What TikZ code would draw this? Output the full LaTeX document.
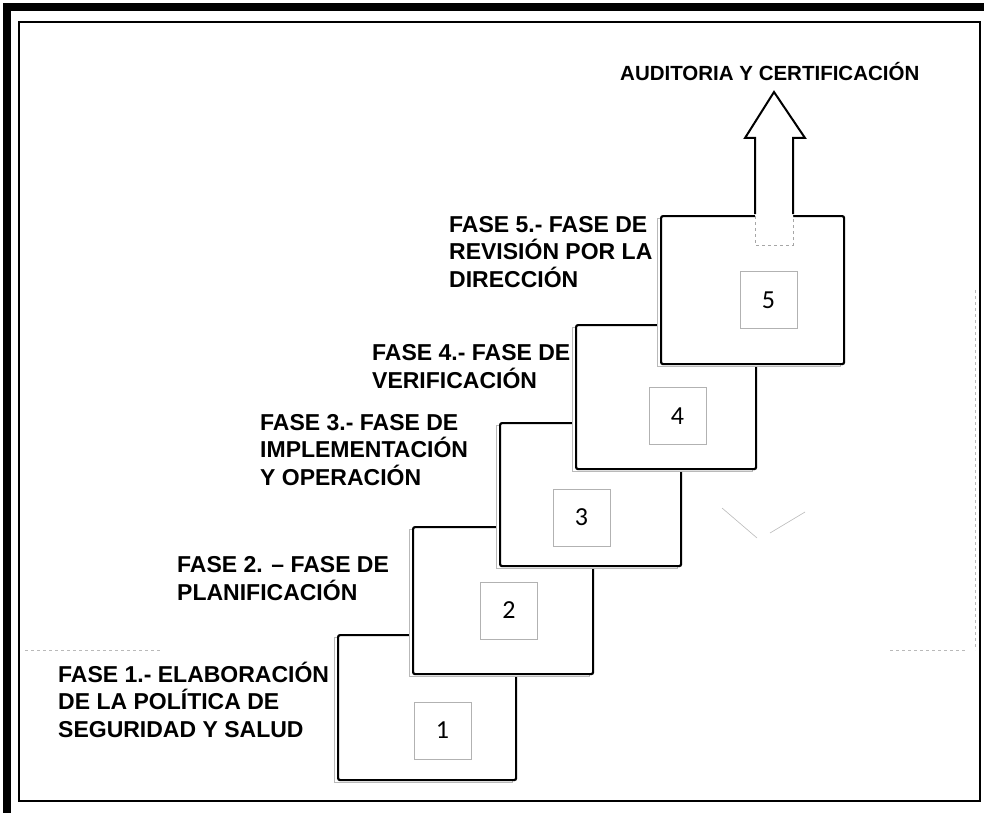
\documentclass[tikz,border=0pt]{standalone}
\usepackage{fontspec}
\setmainfont{Liberation Sans}
\newfontfamily\numfont{Carlito}
\begin{document}
\begin{tikzpicture}[x=1pt,y=-1pt,
  stepbox/.style={draw=black, line width=2.2pt, fill=white, rounded corners=2pt, anchor=north west, inner sep=0pt},
  stepshadow/.style={draw=gray!55, line width=1.2pt, fill=white, anchor=north west, inner sep=0pt},
  numbox/.style={draw=gray!60, line width=0.9pt, minimum width=57pt, minimum height=57pt, inner sep=0pt,
    font=\numfont\fontsize{26}{26}\selectfont},
  phase/.style={font=\bfseries\fontsize{23}{27.5}\selectfont, align=left, inner sep=0pt, anchor=base west},
  faint/.style={draw=gray!55, line width=0.6pt}
]
\useasboundingbox (0,0) rectangle (984,813);
% frame
\fill[black] (3,3) rectangle (11,813);
\fill[black] (3,3) rectangle (984,11);
\draw[line width=1.6pt] (19,22) rectangle (980,801);
% faint remnants
\draw[faint, dashed] (975,290) -- (975,650);
\draw[faint, dashed] (890,650) -- (965,650);
\draw[faint, dashed] (25,650) -- (160,650);
\draw[faint] (722,508) -- (757,538);
\draw[faint] (770,533) -- (805,512);
% boxes
\node[stepshadow, minimum width=178pt, minimum height=145pt] (s1) at (334,637) {};
\node[stepbox, minimum width=178pt, minimum height=145pt] (b1) at (337,634) {};
\node[stepshadow, minimum width=180pt, minimum height=147pt] (s2) at (409,529) {};
\node[stepbox, minimum width=180pt, minimum height=147pt] (b2) at (412,526) {};
\node[stepshadow, minimum width=181pt, minimum height=143pt] (s3) at (496,425) {};
\node[stepbox, minimum width=181pt, minimum height=143pt] (b3) at (499,422) {};
\node[stepshadow, minimum width=180pt, minimum height=144pt] (s4) at (572,327) {};
\node[stepbox, minimum width=180pt, minimum height=144pt] (b4) at (575,324) {};
\node[stepshadow, minimum width=183pt, minimum height=148pt] (s5) at (657,218) {};
\node[stepbox, minimum width=183pt, minimum height=148pt] (b5) at (660,215) {};
% number squares
\node[numbox] (n1) at (442.5,730.5) {1};
\node[numbox] (n2) at (509,610.5) {2};
\node[numbox] (n3) at (581.5,517.5) {3};
\node[numbox] (n4) at (677.5,416) {4};
\node[numbox] (n5) at (768.5,300) {5};
% arrow
\fill[white] (755,246) -- (755,138) -- (745,138) -- (774,92) -- (805,138) -- (793,138) -- (793,246) -- cycle;
\draw[line width=2pt, line join=miter] (755,214) -- (755,138) -- (745,138) -- (774,92) -- (805,138) -- (793,138) -- (793,214);
\draw[gray!70, dashed, line width=1pt] (755,216) -- (755,245) -- (793,245) -- (793,216);
% labels
\node[font=\bfseries\fontsize{20.5}{24}\selectfont, inner sep=0pt, anchor=base west] (aud) at (620,81) {AUDITORIA Y CERTIFICACIÓN};
\node[phase] (f5) at (449,287) {FASE 5.- FASE DE\\REVISIÓN POR LA\\DIRECCIÓN};
\node[phase] (f4) at (372,388) {FASE 4.- FASE DE\\VERIFICACIÓN};
\node[phase] (f3) at (260,485) {FASE 3.- FASE DE\\IMPLEMENTACIÓN\\Y OPERACIÓN};
\node[phase] (f2) at (177,600) {FASE 2. – FASE DE\\PLANIFICACIÓN};
\node[phase] (f1) at (58,737) {FASE 1.- ELABORACIÓN\\DE LA POLÍTICA DE\\SEGURIDAD Y SALUD};
\end{tikzpicture}
\end{document}
